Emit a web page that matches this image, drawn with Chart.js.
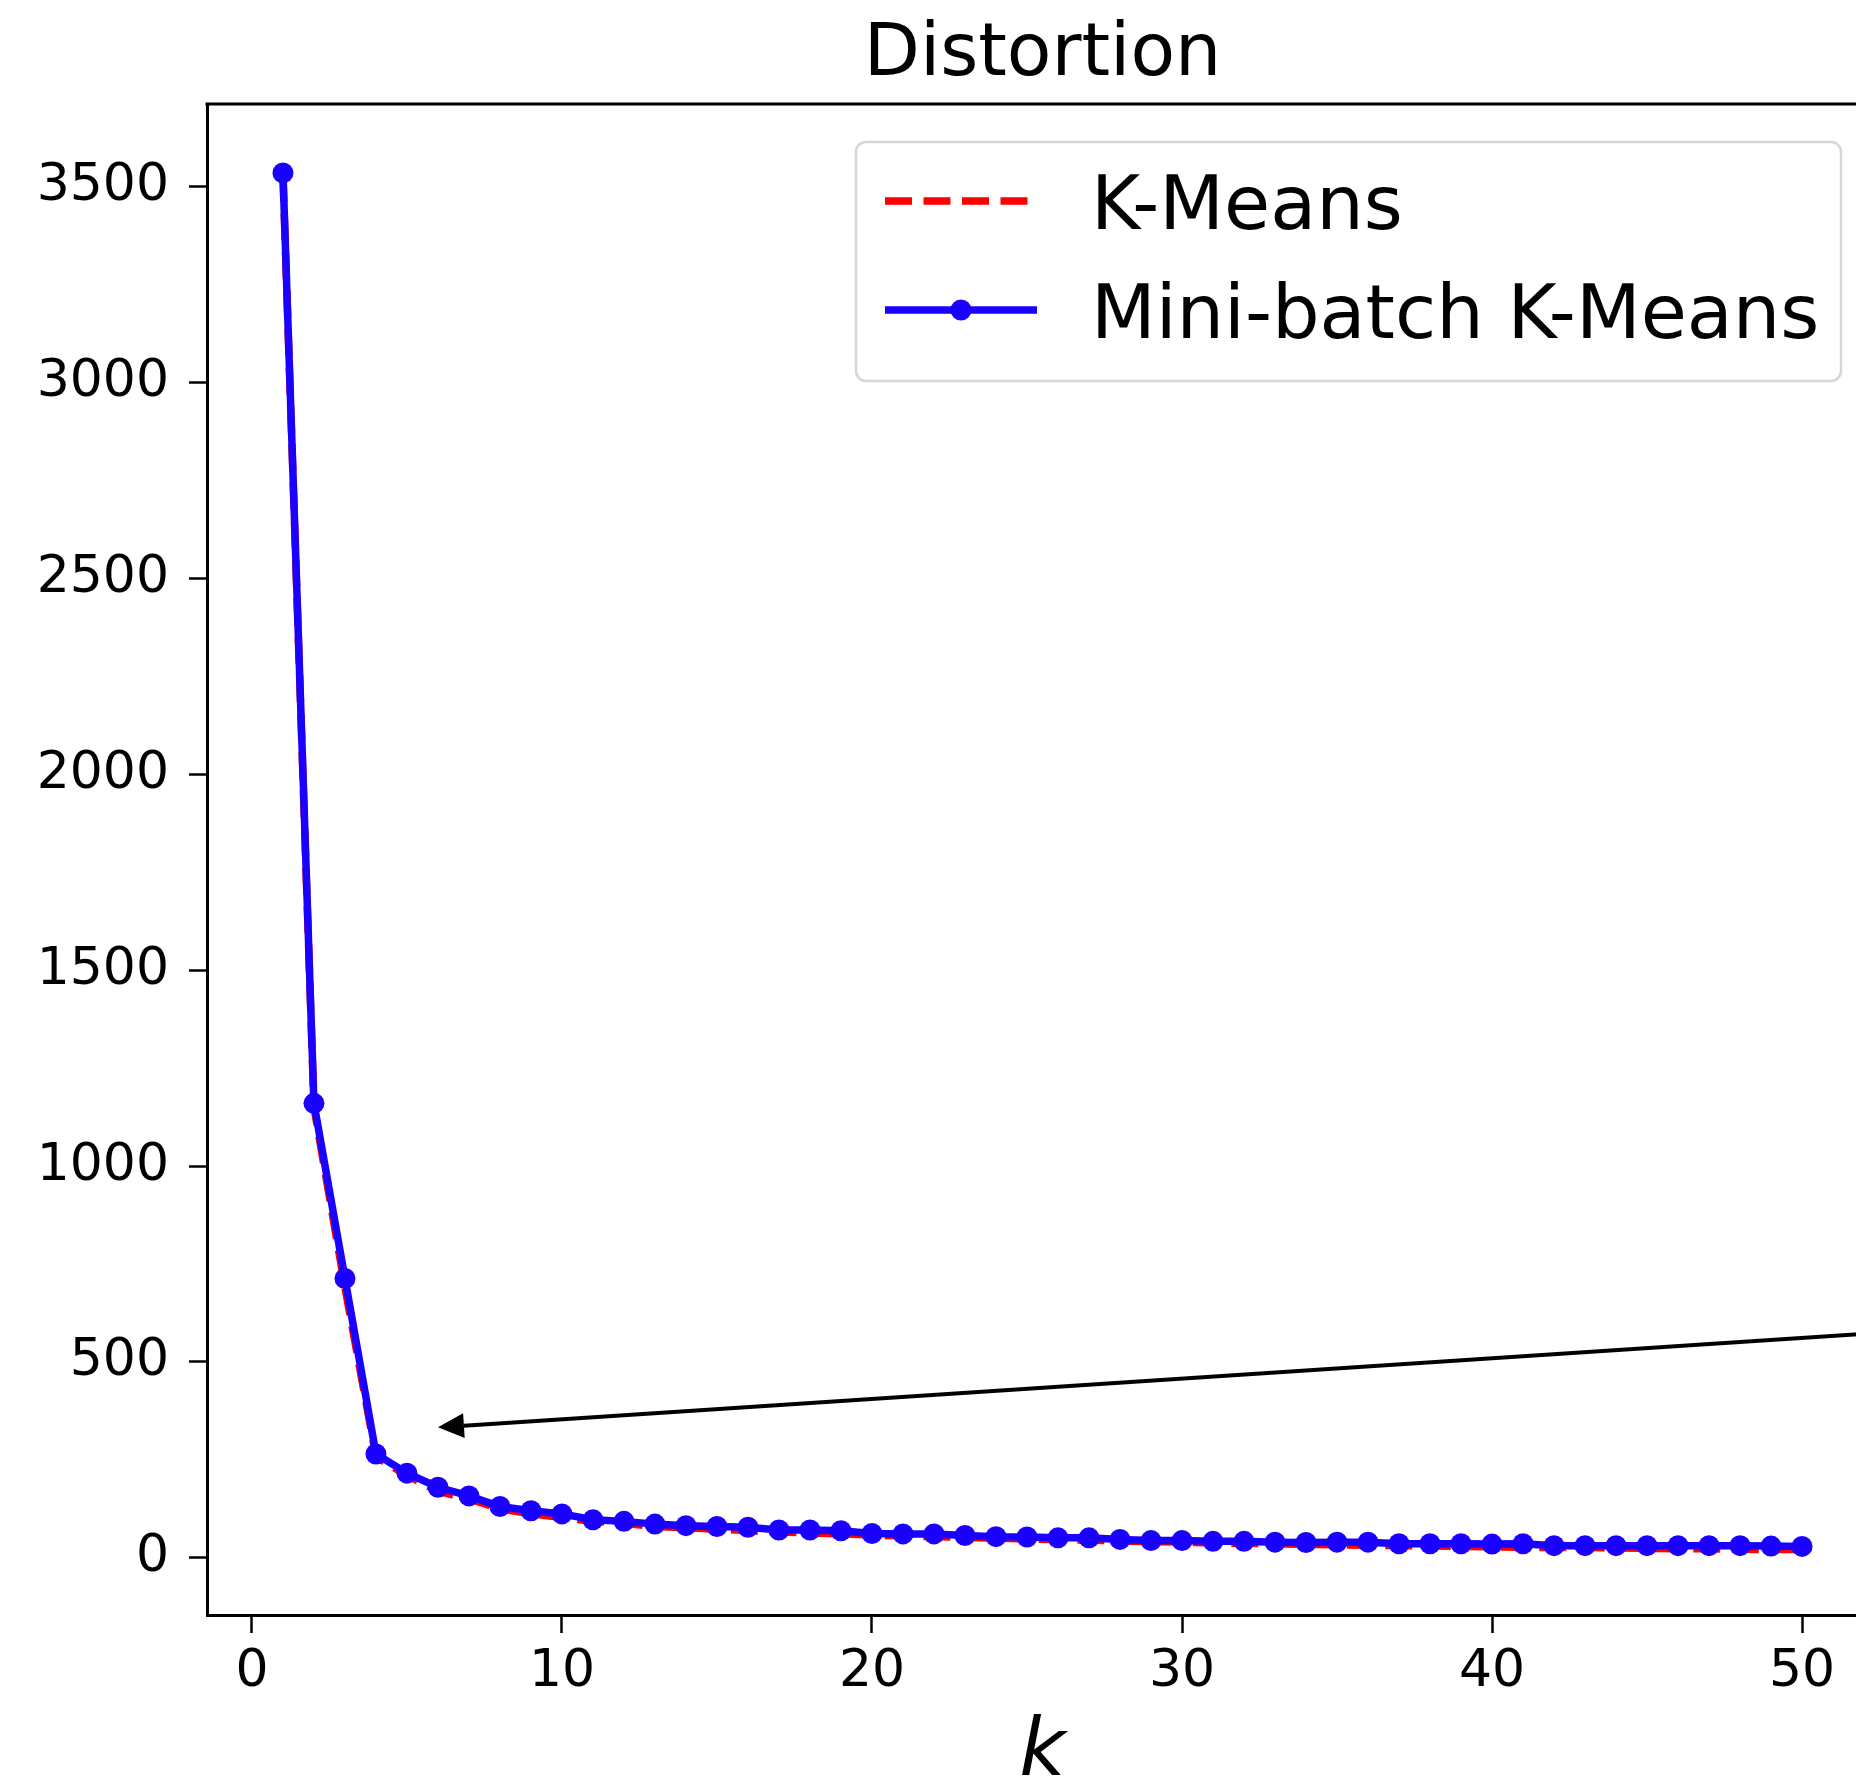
<!DOCTYPE html>
<html><head><meta charset="utf-8">
<script src="https://cdn.jsdelivr.net/npm/chart.js@4.4.1/dist/chart.umd.min.js"></script>
<style>html,body{margin:0;padding:0;overflow:hidden;background:#fff}canvas{display:block}</style>
</head><body>
<canvas id="c" width="1900" height="1790"></canvas>
<script>
// ---- data ----
const kValues = [1,2,3,4,5,6,7,8,9,10,11,12,13,14,15,16,17,18,19,20,21,22,23,24,25,26,27,28,29,30,31,32,33,34,35,36,37,38,39,40,41,42,43,44,45,46,47,48,49,50];
const kmeansDistortion = [3530,1150,690,258,210,170,150,125,112,103,93,88,80,77,73,70,66,63,61,58,56,54,52,50,48,46,45,43,41,40,38,37,36,34,33,32,31,30,29,28,27,26,26,25,24,23,23,22,21,21];
const miniBatchDistortion = [3535,1160,713,265,216,180,158,131,120,112,97,93,86,82,80,78,71,71,69,62,61,61,57,54,53,51,51,47,44,44,42,42,40,39,40,40,36,36,36,35,36,31,31,31,31,31,31,31,30,29];
const xTickValues = [0,10,20,30,40,50];
const yTickValues = [0,500,1000,1500,2000,2500,3000,3500];
const xRange = [-1.45, 52.45];
const yRange = [-146, 3711];
const chartTitle = 'Distortion';
const xAxisLabel = 'k';
const seriesLabels = ['K-Means', 'Mini-batch K-Means'];
const arrowTip = {x: 6, y: 333};
const arrowTail = {x: 54, y: 582};

// ---- styles ----
const RED = '#ff0000';
const BLUE = 'rgb(25,0,255)';
const FONT = '"DejaVu Sans", "Liberation Sans", sans-serif';

const toPts = (xs, ys) => xs.map((x, i) => ({x: x, y: ys[i]}));

const framePlugin = {
  id: 'frame',
  afterDraw(chart) {
    const {ctx, chartArea: a} = chart;
    ctx.save();
    ctx.strokeStyle = '#000';
    ctx.lineWidth = 3;
    ctx.beginPath();
    ctx.moveTo(a.left - 1.5, a.top);
    ctx.lineTo(a.right, a.top);
    ctx.lineTo(a.right, a.bottom);
    ctx.stroke();
    ctx.restore();
  }
};

const arrowPlugin = {
  id: 'arrow',
  afterDatasetsDraw(chart) {
    const {ctx, scales: {x, y}} = chart;
    const tx = x.getPixelForValue(arrowTip.x), ty = y.getPixelForValue(arrowTip.y);
    const sx = x.getPixelForValue(arrowTail.x), sy = y.getPixelForValue(arrowTail.y);
    const ang = Math.atan2(ty - sy, tx - sx);
    const headLen = 26, headHalf = 12.5;
    const bx = tx - headLen * Math.cos(ang), by = ty - headLen * Math.sin(ang);
    ctx.save();
    ctx.strokeStyle = '#000';
    ctx.fillStyle = '#000';
    ctx.lineWidth = 4;
    ctx.beginPath();
    ctx.moveTo(sx, sy);
    ctx.lineTo(bx, by);
    ctx.stroke();
    ctx.beginPath();
    ctx.moveTo(tx, ty);
    ctx.lineTo(bx + headHalf * Math.sin(ang), by - headHalf * Math.cos(ang));
    ctx.lineTo(bx - headHalf * Math.sin(ang), by + headHalf * Math.cos(ang));
    ctx.closePath();
    ctx.fill();
    ctx.restore();
  }
};

const legendPlugin = {
  id: 'mplLegend',
  afterDraw(chart) {
    const ctx = chart.ctx;
    const ds = chart.data.datasets;
    const box = {x: 856, y: 142, w: 985, h: 239, r: 10};
    ctx.save();
    ctx.beginPath();
    ctx.roundRect(box.x, box.y, box.w, box.h, box.r);
    ctx.fillStyle = 'rgba(255,255,255,0.8)';
    ctx.fill();
    ctx.strokeStyle = '#d6d6d6';
    ctx.lineWidth = 2.5;
    ctx.stroke();
    const rows = [201, 310];
    const x0 = 885, x1 = 1037, tx = 1091;
    ds.forEach((d, i) => {
      const yy = rows[i];
      ctx.save();
      ctx.strokeStyle = d.borderColor;
      ctx.lineWidth = d.borderWidth;
      ctx.setLineDash(d.borderDash || []);
      ctx.lineCap = 'butt';
      ctx.beginPath();
      ctx.moveTo(x0, yy);
      ctx.lineTo(x1, yy);
      ctx.stroke();
      ctx.restore();
      if (d.pointRadius > 0) {
        ctx.beginPath();
        ctx.arc((x0 + x1) / 2, yy, d.pointRadius, 0, Math.PI * 2);
        ctx.fillStyle = d.pointBackgroundColor;
        ctx.fill();
      }
      ctx.fillStyle = '#000';
      ctx.font = '75px ' + FONT;
      ctx.textBaseline = 'alphabetic';
      ctx.textAlign = 'left';
      ctx.fillText(d.label, tx, yy + 28);
    });
    ctx.restore();
  }
};

new Chart(document.getElementById('c'), {
  type: 'line',
  data: {
    datasets: [
      {
        label: seriesLabels[0],
        data: toPts(kValues, kmeansDistortion),
        borderColor: RED,
        backgroundColor: RED,
        borderWidth: 7.5,
        borderDash: [27, 11.5],
        borderCapStyle: 'butt',
        pointRadius: 0,
        tension: 0,
        order: 2
      },
      {
        label: seriesLabels[1],
        data: toPts(kValues, miniBatchDistortion),
        borderColor: BLUE,
        backgroundColor: BLUE,
        borderWidth: 7.5,
        pointRadius: 10.5,
        pointBorderWidth: 0,
        pointBackgroundColor: BLUE,
        tension: 0,
        order: 1
      }
    ]
  },
  options: {
    responsive: false,
    animation: false,
    devicePixelRatio: 1,
    layout: {padding: {left: 0, top: 0, right: 22, bottom: 0}},
    plugins: {
      legend: {display: false},
      tooltip: {enabled: false},
      title: {
        display: true,
        text: chartTitle,
        fullSize: false,
        color: '#000',
        font: {family: FONT, size: 73, weight: 'normal', lineHeight: 1.2},
        padding: {top: 12, bottom: 4.4}
      }
    },
    scales: {
      x: {
        type: 'linear',
        min: xRange[0],
        max: xRange[1],
        afterBuildTicks: s => { s.ticks = xTickValues.map(v => ({value: v})); },
        afterFit: s => { s.height = 175; },
        grid: {display: true, drawOnChartArea: false, drawTicks: true, tickLength: 18, tickWidth: 2.5, tickColor: '#000'},
        border: {display: true, color: '#000', width: 3},
        ticks: {color: '#000', font: {family: FONT, size: 52}, padding: 8, maxRotation: 0, autoSkip: false,
                callback: v => String(v)},
        title: {display: true, text: xAxisLabel, color: '#000', font: {family: FONT, size: 80, style: 'italic', lineHeight: 1}, padding: {top: 0, bottom: -4}}
      },
      y: {
        type: 'linear',
        min: yRange[0],
        max: yRange[1],
        afterBuildTicks: s => { s.ticks = yTickValues.map(v => ({value: v})); },
        afterFit: s => { s.width = 207; },
        grid: {display: true, drawOnChartArea: false, drawTicks: true, tickLength: 18, tickWidth: 2.5, tickColor: '#000'},
        border: {display: true, color: '#000', width: 3},
        ticks: {color: '#000', font: {family: FONT, size: 52}, padding: 20, autoSkip: false,
                callback: v => String(v)}
      }
    }
  },
  plugins: [framePlugin, arrowPlugin, legendPlugin]
});
</script>
</body></html>
